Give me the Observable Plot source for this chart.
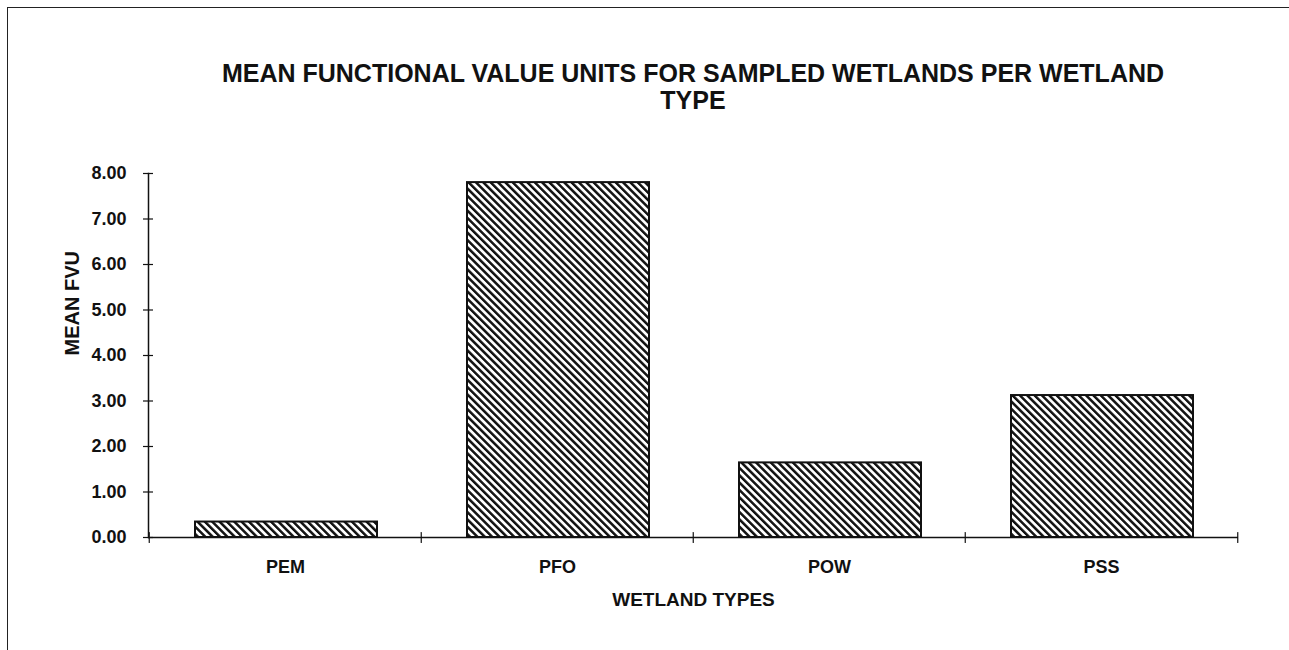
<!DOCTYPE html>
<html>
<head>
<meta charset="utf-8">
<script src="https://cdn.jsdelivr.net/npm/d3@7"></script>
<script src="https://cdn.jsdelivr.net/npm/@observablehq/plot@0.6"></script>
<style>
  html, body { margin: 0; padding: 0; background: #fff; }
  #wrap { position: relative; width: 1289px; height: 650px; overflow: hidden; background: #fff; font-family: "Liberation Sans", Arial, sans-serif; }
  #border { position: absolute; left: 7px; top: 7px; width: 1300px; height: 700px; border-left: 1.5px solid #222; border-top: 1.5px solid #222; z-index: 2; pointer-events: none; }
  #title { position: relative; height: 120px; }
  #title div { position: absolute; left: 0; width: 1386px; text-align: center; font-weight: bold; font-size: 25px; line-height: 27px; top: 60px; color: #111; }
  #chart { position: relative; }
</style>
</head>
<body>
<div id="wrap">
  <div id="title"><div>MEAN FUNCTIONAL VALUE UNITS FOR SAMPLED WETLANDS PER WETLAND<br>TYPE</div></div>
  <div id="chart"></div>
  <div id="border"></div>
</div>
<script>
const categories = ["PEM", "PFO", "POW", "PSS"];
const meanFVU = [0.34, 7.80, 1.64, 3.12];
const yTicks = [0, 1, 2, 3, 4, 5, 6, 7, 8];
const xLabel = "WETLAND TYPES";
const yLabel = "MEAN FVU";

const data = categories.map((c, i) => ({type: c, value: meanFVU[i]}));

const W = 1289, H = 530, mL = 148, mR = 51, mT = 53, mB = 113;
const bw = (W - mL - mR) / categories.length;
const font = "Liberation Sans, Arial, sans-serif";

const plot = Plot.plot({
  width: W, height: H,
  marginLeft: mL, marginRight: mR, marginTop: mT, marginBottom: mB,
  style: {fontFamily: font, fontWeight: "bold", color: "#111", background: "transparent", overflow: "visible"},
  x: {domain: categories, padding: 0, label: null, axis: null},
  y: {domain: [0, 8], label: null, axis: null},
  marks: [
    Plot.barY(data, {x: "type", y: "value", fill: "url(#hatch)", stroke: "#111", strokeWidth: 2, insetLeft: 46, insetRight: 44}),
    Plot.frame({anchor: "left", stroke: "#111", strokeWidth: 1.5}),
    Plot.ruleY([0], {stroke: "#111", strokeWidth: 1.5}),
    Plot.axisY({ticks: yTicks, tickSize: 0, tickPadding: 22, tickFormat: d => d.toFixed(2), fontSize: 18, label: null}),
    Plot.axisY({ticks: yTicks, tickSize: 10, insetLeft: 5, tickFormat: () => "", label: null, stroke: "#111", strokeWidth: 1.2}),
    Plot.axisX({tickSize: 0, tickPadding: 23, fontSize: 18, label: null}),
    Plot.vector(categories, {x: d => d, y: 0, length: 10, rotate: 0, anchor: "middle", dx: -bw / 2, stroke: "#111", strokeWidth: 1.2,
      shape: {draw(ctx, l) { ctx.moveTo(0, 0); ctx.lineTo(0, -l); }}}),
    Plot.vector(categories.slice(-1), {x: d => d, y: 0, length: 10, rotate: 0, anchor: "middle", dx: bw / 2, stroke: "#111", strokeWidth: 1.2,
      shape: {draw(ctx, l) { ctx.moveTo(0, 0); ctx.lineTo(0, -l); }}}),
    Plot.text([xLabel], {frameAnchor: "bottom", dy: 68, fontSize: 19, fontWeight: "bold", fill: "#111"}),
    Plot.text([yLabel], {frameAnchor: "left", dx: -76, rotate: -90, fontSize: 20, fontWeight: "bold", fill: "#111"})
  ]
});

const ns = "http://www.w3.org/2000/svg";
const defs = document.createElementNS(ns, "defs");
const pat = document.createElementNS(ns, "pattern");
pat.setAttribute("id", "hatch");
pat.setAttribute("patternUnits", "userSpaceOnUse");
pat.setAttribute("width", "5.2");
pat.setAttribute("height", "5.2");
pat.setAttribute("patternTransform", "rotate(-45)");
const bg = document.createElementNS(ns, "rect");
bg.setAttribute("width", "5.2"); bg.setAttribute("height", "5.2"); bg.setAttribute("fill", "#fff");
const ln = document.createElementNS(ns, "rect");
ln.setAttribute("width", "2.5"); ln.setAttribute("height", "5.2"); ln.setAttribute("fill", "#111");
pat.appendChild(bg); pat.appendChild(ln);
defs.appendChild(pat);
plot.insertBefore(defs, plot.firstChild);

document.getElementById("chart").appendChild(plot);
</script>
</body>
</html>
